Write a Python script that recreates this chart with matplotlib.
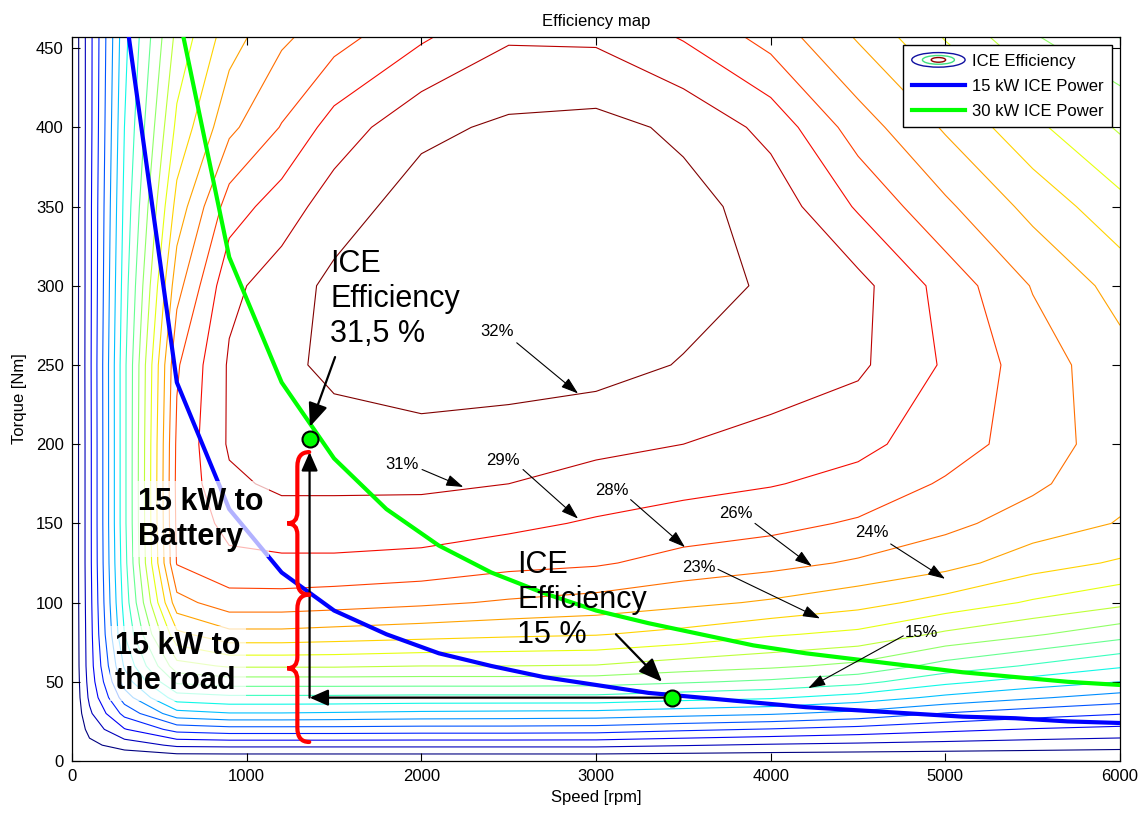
import matplotlib
matplotlib.use("Agg")
import matplotlib.pyplot as plt
import numpy as np
from matplotlib.path import Path
from matplotlib.patches import PathPatch, Ellipse
from matplotlib.legend_handler import HandlerBase
from matplotlib.lines import Line2D

plt.rcParams['font.family'] = ['Liberation Sans', 'DejaVu Sans']

# efficiency map grid (speed in rpm, torque in Nm, efficiency in %)
speed = [0, 100, 300, 600, 900, 1200, 1500, 2000, 2500, 3000, 3500, 4000, 4500, 5000, 5500, 6000]
torque = [0, 10, 20, 30, 40, 50, 60, 80, 100, 125, 150, 175, 200, 250, 300, 350, 400, 460]
eff = [
    [0, 0, 0, 0, 0, 0, 0, 0, 0, 0, 0, 0, 0, 0, 0, 0],
    [0, 1.2, 2.3, 3.5, 3.6, 3.6, 3.6, 3.6, 3.6, 3.6, 3.3, 3.0, 2.8, 2.6, 2.4, 2.2],
    [0, 2.1, 4.7, 7.0, 7.4, 7.4, 7.4, 7.3, 7.3, 7.2, 6.7, 6.3, 5.8, 5.2, 4.7, 4.4],
    [0, 2.9, 6.9, 10.6, 11.1, 11.1, 11.0, 10.8, 10.7, 10.6, 10.2, 9.8, 9.1, 7.9, 7.1, 6.5],
    [0, 3.5, 8.8, 13.6, 14.0, 14.0, 14.0, 13.9, 13.9, 13.9, 13.4, 13.0, 12.1, 10.8, 9.8, 8.9],
    [0, 3.8, 10.3, 16.3, 16.8, 16.8, 16.8, 16.8, 16.8, 16.7, 16.2, 15.7, 14.9, 13.2, 12.1, 11.2],
    [0, 4.0, 11.4, 18.6, 19.4, 19.4, 19.4, 19.2, 19.2, 19.1, 18.4, 17.9, 17.2, 15.4, 14.2, 13.0],
    [0, 4.1, 12.8, 22.0, 23.5, 23.5, 23.3, 23.0, 22.7, 22.5, 21.9, 21.0, 20.4, 18.9, 17.8, 16.6],
    [0, 4.2, 13.4, 25.0, 26.5, 26.5, 26.3, 25.9, 25.4, 25.0, 24.4, 23.8, 23.0, 21.8, 20.6, 19.6],
    [0, 4.3, 13.8, 27.3, 28.4, 28.5, 28.5, 28.3, 27.7, 27.4, 26.6, 26.1, 25.4, 24.6, 23.1, 22.2],
    [0, 4.3, 14.0, 27.5, 29.3, 29.7, 29.7, 29.6, 29.2, 28.6, 28.1, 27.7, 27.0, 26.0, 24.9, 23.9],
    [0, 4.3, 14.0, 27.6, 30.1, 30.7, 30.7, 30.7, 30.4, 29.8, 29.3, 28.9, 28.3, 27.0, 25.9, 24.5],
    [0, 4.3, 14.0, 27.5, 30.6, 31.2, 31.3, 31.5, 31.5, 30.8, 30.4, 29.8, 29.2, 28.0, 26.4, 24.8],
    [0, 4.35, 14.0, 27.0, 30.6, 31.6, 32.4, 32.8, 32.5, 32.6, 31.9, 31.4, 30.7, 28.6, 26.4, 24.6],
    [0, 4.3, 13.6, 25.0, 30.0, 31.2, 32.4, 33.2, 33.0, 33.2, 32.6, 31.8, 30.9, 28.2, 25.5, 23.4],
    [0, 4.3, 13.2, 23.0, 28.0, 29.6, 31.2, 32.8, 32.8, 33.2, 32.5, 31.4, 28.6, 25.9, 23.5, 21.3],
    [0, 4.2, 12.8, 21.2, 25.2, 27.3, 29.5, 31.6, 32.3, 32.5, 31.7, 29.9, 26.4, 23.8, 21.2, 19.0],
    [0, 4.2, 12.3, 19.6, 23.2, 25.2, 26.4, 28.4, 30.1, 30.0, 28.5, 26.4, 23.7, 20.5, 17.6, 15.8],
]

# constant power lines
speed_pw = [300, 600, 900, 1200, 1500, 1800, 2100, 2400, 2700, 3000, 3300, 3600, 3900, 4200, 4500, 4800, 5100, 5400, 5700, 6000]
torque_15kw = [477, 239, 159, 119, 95, 80, 68, 60, 53, 48, 43, 40, 37, 34, 32, 30, 28, 27, 25, 24]
torque_30kw = [955, 477, 318, 239, 191, 159, 136, 119, 106, 95, 87, 80, 73, 68, 64, 60, 56, 53, 50, 48]

# operating points
op_speed = [1360, 3435]
op_torque = [203, 40]

# contour labels: text, text position, arrow start, arrow tip
lbl_text = ['32%', '31%', '29%', '28%', '26%', '23%', '24%', '15%']
lbl_pos = [(2431, 271), (1889, 187), (2467, 190), (3090, 171), (3801, 156), (3586, 122), (4578, 144), (4864, 81)]
lbl_from = [(2546, 264), (2004, 184), (2582, 184), (3198, 165), (3910, 150), (3698, 121), (4687, 137), (4759, 79)]
lbl_to = [(2897, 232), (2240, 173), (2897, 153), (3509, 135), (4235, 123), (4282, 90), (4998, 115), (4215, 46)]

# power split braces (torque ranges)
brace_ranges = [(12, 105), (105, 195)]


class ContourIcon(HandlerBase):
    def create_artists(self, legend, orig_handle, xdescent, ydescent,
                       width, height, fontsize, trans):
        cx = width / 2 - xdescent
        cy = height / 2 - ydescent
        arts = []
        for fw, fh, c in [(1.0, 1.25, '#1010a0'), (0.6, 0.75, '#40e080'), (0.27, 0.4, '#900000')]:
            e = Ellipse((cx, cy), width * fw, height * fh, fill=False,
                        edgecolor=c, lw=1.0, transform=trans)
            arts.append(e)
        return arts


fig = plt.figure(figsize=(11.47, 8.14), dpi=100)
ax = fig.add_axes([0.0628, 0.0651, 0.9137, 0.8894])

levels = np.arange(1, 21) * 1.6
ax.contour(speed, torque, eff, levels=levels, cmap='jet', linewidths=0.8, zorder=1)

l15, = ax.plot(speed_pw, torque_15kw, color=(0, 0, 1), lw=3, zorder=3, label='15 kW ICE Power')
l30, = ax.plot(speed_pw, torque_30kw, color=(0, 1, 0), lw=3, zorder=3, label='30 kW ICE Power')

# black guide arrows between the two operating points
big = dict(arrowstyle='-|>,head_length=0.75,head_width=0.33', color='k', lw=1.6,
           mutation_scale=15, shrinkA=0, shrinkB=0)
ax.annotate('', xy=(op_speed[0], op_torque[1]), xytext=(op_speed[1], op_torque[1]),
            arrowprops=big, zorder=4)
ax.annotate('', xy=(op_speed[0], op_torque[0] - 8), xytext=(op_speed[0], op_torque[1]),
            arrowprops=big, zorder=4)

# red braces
x_end, x_spine, x_tip = 1358, 1290, 1232
for t0, t1 in brace_ranges:
    tm = (t0 + t1) / 2
    verts = [(x_end, t1), (x_spine, t1), (x_spine, t1 - 9),
             (x_spine, tm + 7), (x_spine, tm), (x_tip, tm),
             (x_spine, tm), (x_spine, tm - 7),
             (x_spine, t0 + 9), (x_spine, t0), (x_end, t0)]
    codes = [Path.MOVETO, Path.CURVE3, Path.CURVE3,
             Path.LINETO, Path.CURVE3, Path.CURVE3,
             Path.CURVE3, Path.CURVE3,
             Path.LINETO, Path.CURVE3, Path.CURVE3]
    ax.add_patch(PathPatch(Path(verts, codes), fill=False, edgecolor='red', lw=3,
                           capstyle='round', zorder=4))

ax.plot(op_speed, op_torque, 'o', ms=11.5, mfc=(0, 1, 0), mec='k', mew=1.5, zorder=5)

# big annotation texts
ax.text(1477, 323, 'ICE\nEfficiency\n31,5 %', fontsize=22, ha='left', va='top', zorder=6)
ax.annotate('', xy=(1362, 211), xytext=(1506, 255), zorder=6,
            arrowprops=dict(arrowstyle='-|>,head_length=0.8,head_width=0.33', color='k',
                            lw=1.6, mutation_scale=18, shrinkA=0, shrinkB=0))
ax.text(2548, 133, 'ICE\nEfficiency\n15 %', fontsize=22, ha='left', va='top', zorder=6)
ax.annotate('', xy=(3378, 50), xytext=(3114, 80), zorder=6,
            arrowprops=dict(arrowstyle='-|>,head_length=0.8,head_width=0.33', color='k',
                            lw=1.6, mutation_scale=18, shrinkA=0, shrinkB=0))

box = dict(facecolor='white', alpha=0.7, edgecolor='none', pad=4)
ax.text(378, 173, '15 kW to\nBattery', fontsize=22, fontweight='bold', ha='left', va='top',
        bbox=box, zorder=3.5)
ax.text(246, 82, '15 kW to\nthe road', fontsize=22, fontweight='bold', ha='left', va='top',
        bbox=box, zorder=3.5)

# contour value labels
small = dict(arrowstyle='-|>,head_length=0.75,head_width=0.25', color='k', lw=0.8,
             mutation_scale=14, shrinkA=0, shrinkB=0)
for txt, p, a, b in zip(lbl_text, lbl_pos, lbl_from, lbl_to):
    ax.text(p[0], p[1], txt, fontsize=12, ha='center', va='center', zorder=6)
    ax.annotate('', xy=b, xytext=a, arrowprops=small, zorder=6)

ax.set_xlim(0, 6000)
ax.set_ylim(0, 457)
ax.set_xticks(np.arange(0, 6001, 1000))
ax.set_yticks(np.arange(0, 451, 50))
ax.tick_params(direction='in', top=True, right=True, length=6, labelsize=12, pad=6)
for s in ax.spines.values():
    s.set_linewidth(0.9)
ax.set_xlabel('Speed [rpm]', fontsize=12, labelpad=4)
ax.set_ylabel('Torque [Nm]', fontsize=12, labelpad=6)
ax.set_title('Efficiency map', fontsize=12, pad=8)

proxy = Line2D([], [], label='ICE Efficiency')
leg = ax.legend(handles=[proxy, l15, l30], loc='upper right', fontsize=12,
                handler_map={proxy: ContourIcon()}, handlelength=3.2,
                labelspacing=0.6, borderaxespad=0.5, fancybox=False,
                framealpha=1, edgecolor='k', borderpad=0.5, handletextpad=0.4)
leg.get_frame().set_linewidth(1.0)
leg.set_zorder(10)

fig.savefig('out.png', dpi=100)
